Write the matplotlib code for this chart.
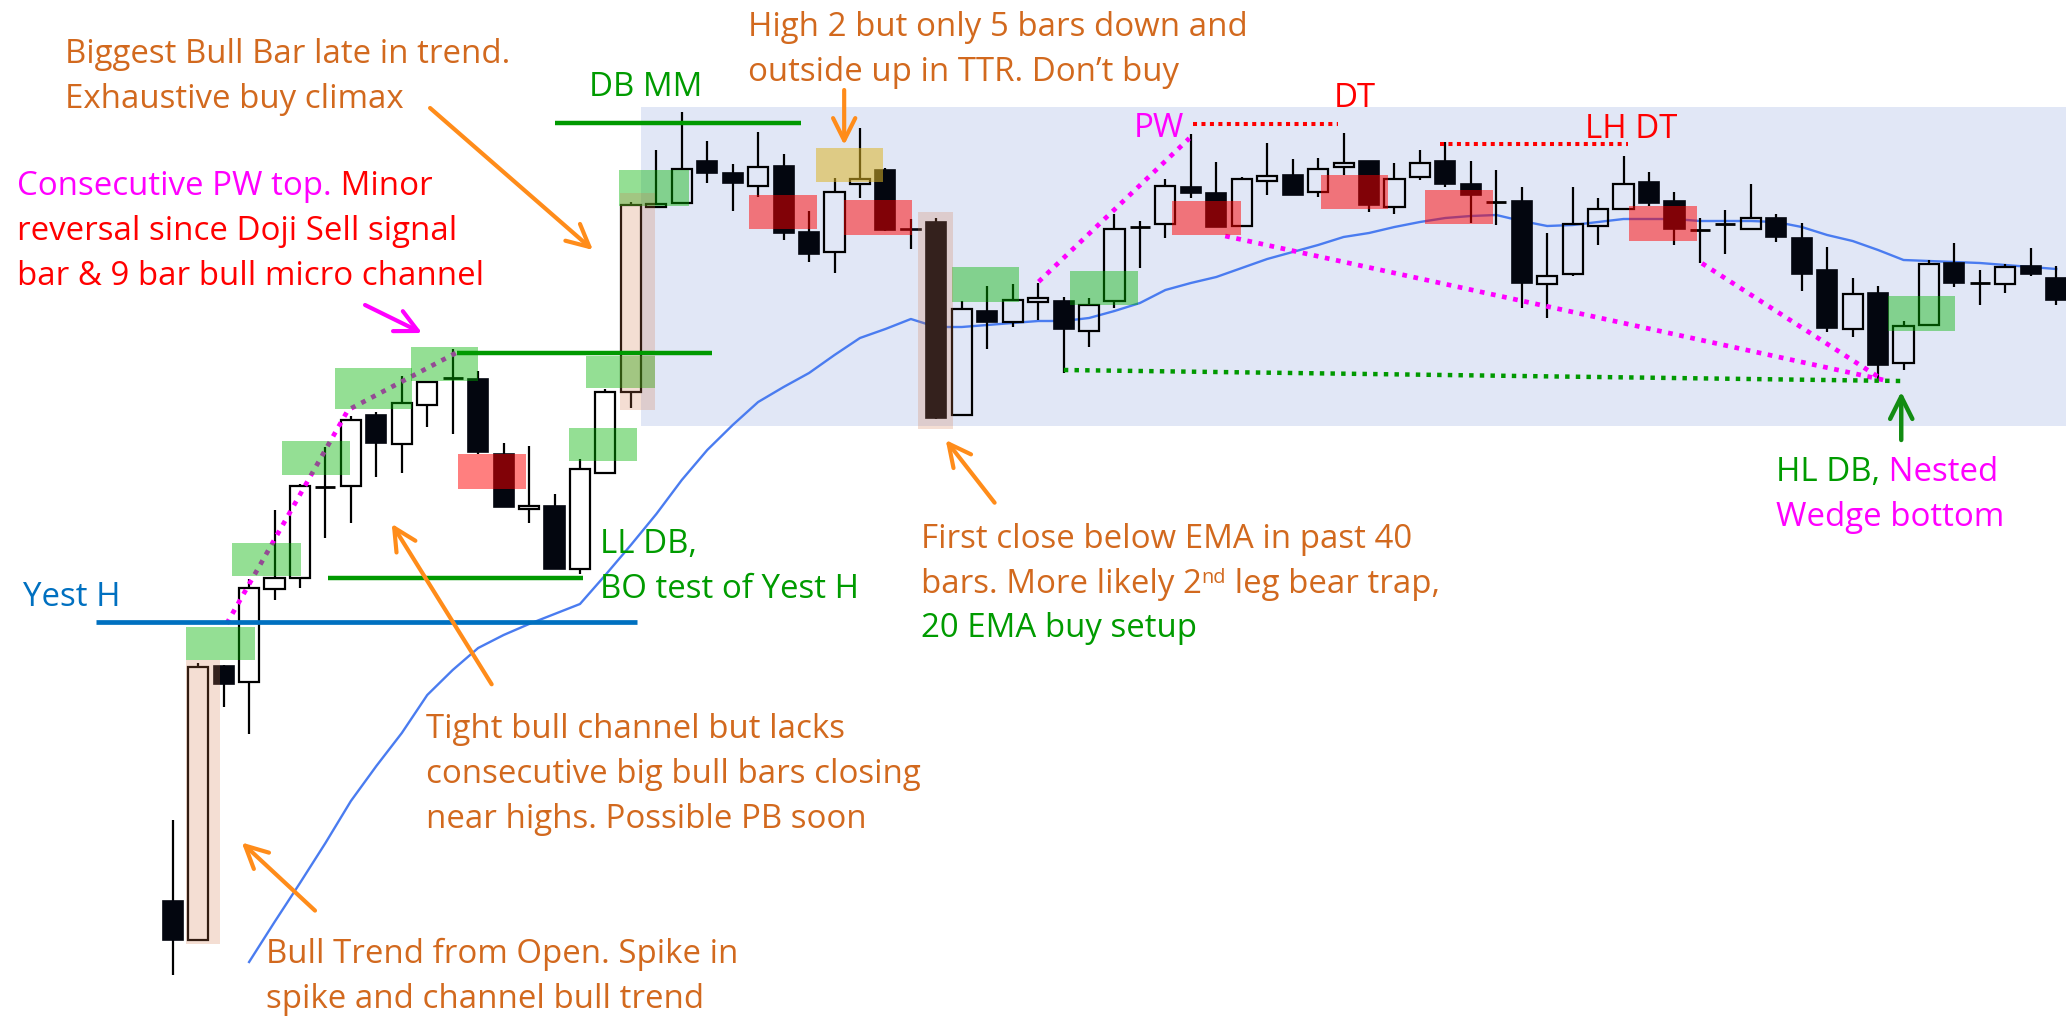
import matplotlib
matplotlib.use('Agg')
import matplotlib.pyplot as plt
from matplotlib.patches import Rectangle
import numpy as np

# ---------------- data (price units) ----------------
opens = [11.6, 7.7, 35.1, 33.5, 42.8, 43.9, 53.0, 53.1, 60.2, 57.3,
         61.2, 63.9, 63.8, 56.3, 50.8, 51.1, 44.8, 54.4, 62.5, 81.0,
         81.4, 85.6, 84.4, 83.1, 85.1, 78.5, 76.5, 83.3, 84.7, 78.8,
         79.5, 60.2, 70.6, 69.5, 71.5, 71.6, 68.6, 71.6, 79.0, 79.3,
         83.0, 82.4, 79.1, 83.6, 84.2, 82.5, 85.0, 85.6, 81.0, 84.0,
         85.6, 83.3, 81.5, 81.6, 73.3, 74.3, 79.1, 80.8, 83.5, 81.6,
         78.7, 79.3, 78.8, 79.9, 77.9, 74.7, 68.8, 72.4, 65.4, 69.2,
         75.4, 73.4, 73.3, 75.1, 73.9]
highs = [19.7, 35.4, 35.2, 43.8, 50.7, 53.3, 57.0, 60.1, 60.5, 64.1,
         63.6, 66.8, 64.6, 57.4, 57.1, 52.3, 55.8, 62.8, 81.5, 86.7,
         90.5, 87.6, 85.3, 88.5, 86.3, 80.6, 83.9, 88.9, 84.9, 79.8,
         79.9, 71.6, 73.1, 73.3, 73.4, 72.0, 71.9, 80.3, 79.6, 83.8,
         88.3, 85.5, 84.0, 87.4, 85.8, 85.9, 88.4, 85.6, 85.4, 86.7,
         87.5, 85.6, 84.7, 83.0, 78.4, 83.0, 81.9, 86.1, 84.5, 82.5,
         79.9, 80.7, 83.3, 80.3, 79.4, 77.0, 73.9, 73.1, 69.6, 75.7,
         77.4, 74.7, 75.3, 76.9, 75.1]
lows = [4.2, 7.6, 31.0, 28.3, 41.7, 42.9, 47.9, 49.4, 54.0, 54.4,
        59.0, 58.3, 56.3, 51.0, 49.4, 44.8, 44.3, 54.4, 60.9, 80.9,
        81.3, 83.4, 80.6, 82.0, 77.7, 75.5, 74.4, 81.9, 78.6, 76.8,
        59.8, 60.1, 66.8, 69.0, 69.7, 64.4, 67.0, 70.9, 74.9, 77.9,
        81.9, 79.0, 79.0, 82.2, 82.2, 82.0, 84.2, 80.5, 80.3, 83.7,
        83.0, 79.4, 79.2, 70.9, 69.9, 74.1, 77.2, 80.7, 81.1, 77.2,
        75.4, 76.3, 78.8, 77.5, 72.6, 68.5, 68.0, 63.7, 64.7, 69.2,
        73.0, 71.2, 72.4, 74.1, 71.2]
closes = [7.7, 35.0, 33.3, 42.9, 43.9, 53.1, 53.0, 59.7, 57.4, 61.4,
          63.5, 63.9, 56.5, 51.0, 51.1, 44.8, 54.8, 62.5, 81.2, 81.3,
          84.8, 84.4, 83.4, 85.0, 78.4, 76.3, 82.5, 83.8, 78.7, 78.7,
          59.9, 70.8, 69.5, 71.7, 71.9, 68.8, 71.2, 78.8, 79.0, 83.1,
          82.4, 79.0, 83.8, 84.1, 82.2, 84.8, 85.4, 81.2, 83.8, 85.4,
          83.3, 82.2, 81.5, 73.4, 74.1, 79.3, 80.8, 83.3, 81.4, 78.8,
          78.7, 79.3, 79.9, 78.0, 74.3, 68.9, 72.3, 65.2, 69.1, 75.3,
          73.4, 73.4, 75.0, 74.3, 71.7]
ema_first_bar = 4
ema20 = [5.5, 9.5, 13.4, 17.4, 21.6, 25.1, 28.4, 32.2, 34.7,
         36.9, 38.2, 39.3, 40.3, 41.3, 44.2, 47.2, 50.3, 53.7, 56.7,
         59.2, 61.5, 63.0, 64.4, 66.2, 67.9, 68.8, 69.8, 69.0, 69.0,
         69.2, 69.4, 69.6, 69.6, 69.9, 70.6, 71.4, 72.7, 73.4, 74.0,
         74.9, 75.8, 76.5, 77.2, 78.0, 78.4, 79.0, 79.5, 79.9, 80.1,
         80.2, 79.6, 79.1, 79.2, 79.5, 79.8, 79.8, 79.8, 79.6, 79.6,
         79.6, 79.5, 79.0, 78.2, 77.6, 76.7, 75.7, 75.6, 75.5, 75.4,
         75.2, 75.0, 74.8]
yest_high = 39.53

# ---------------- figure ----------------
plt.rcParams['font.family'] = ['Open Sans', 'DejaVu Sans']
FS = 23.8
ORANGE_TXT = '#D2691E'
ORANGE = '#FF8C1A'
GREEN_TXT = '#009B00'
GREEN = '#009900'
MAG = '#FF00FF'
RED = '#FF0000'
BLUE = '#0070C0'

fig = plt.figure(figsize=(20.66, 10.17), dpi=100)
ax = fig.add_axes([0, 0, 1, 1])
ax.set_xlim(-5.786, 75.383)
ax.set_ylim(0, 101.7)
ax.axis('off')

O = np.array(opens); H = np.array(highs); L = np.array(lows); C = np.array(closes)
x = np.arange(1, len(O) + 1)
W = 0.79

# trading range background
ax.add_patch(Rectangle((19.40, 59.1), 60, 31.93, facecolor='#E1E7F6', edgecolor='none', zorder=0))

# EMA
ax.plot(np.arange(ema_first_bar, ema_first_bar + len(ema20)), ema20, color='#4A7CF0', lw=1.7, zorder=1)

# candles
top = np.maximum(O, C); bot = np.minimum(O, C)
ax.vlines(x, top, H, color='black', lw=1.6, zorder=2)
ax.vlines(x, L, bot, color='black', lw=1.6, zorder=2)
bull = C > O
bear = C < O
doji = C == O
ax.bar(x[bull], (C - O)[bull], bottom=O[bull], width=W, facecolor='none',
       edgecolor='black', linewidth=1.6, zorder=2.2)
ax.bar(x[bear], (O - C)[bear], bottom=C[bear], width=W, facecolor='#03060F',
       edgecolor='#03060F', linewidth=1.2, zorder=2.2)
ax.hlines(O[doji], x[doji] - W / 2, x[doji] + W / 2, color='black', lw=2, zorder=2.2)

# dotted lines
def dotted(xs, ys, color, lw=3.4, pat=(1, 1.4)):
    ax.plot(xs, ys, color=color, lw=lw, linestyle=(0, pat), dash_capstyle='butt', zorder=2.5)

dotted([3.122, 7.888, 12.159], [39.34, 60.7, 66.45], MAG)
dotted([35.02, 40.94], [73.53, 87.87], MAG)
dotted([42.35, 68.4], [78.1, 63.6], MAG)
dotted([61.08, 68.2], [75.37, 63.7], MAG)
dotted([36.01, 68.9], [64.7, 63.6], GREEN, lw=3.2)
dotted([41.09, 46.77], [89.27, 89.27], RED, lw=2.9, pat=(1, 1.1))
dotted([50.80, 58.18], [87.27, 87.27], RED, lw=2.9, pat=(1, 1.1))

# highlight boxes
def box(x0, x1, y0, y1, color, alpha):
    ax.add_patch(Rectangle((x0, y0), x1 - x0, y1 - y0, facecolor=color, alpha=alpha,
                           edgecolor='none', zorder=3))

GRN = '#00B400'
for b in [(1.523, 4.234, 35.66, 39.04), (3.342, 6.041, 44.11, 47.45),
          (5.283, 7.966, 54.22, 57.64), (7.377, 10.391, 60.81, 64.93),
          (10.352, 13.008, 63.63, 66.97), (16.583, 19.255, 55.6, 58.95),
          (17.228, 19.951, 62.87, 66.13), (18.548, 21.287, 81.1, 84.7),
          (31.609, 34.253, 71.53, 75.03), (36.242, 38.937, 71.2, 74.63),
          (68.375, 71.03, 68.63, 72.13)]:
    box(*b, GRN, 0.42)
for b in [(12.222, 14.882, 52.79, 56.26), (23.644, 26.328, 78.77, 82.2),
          (27.377, 30.061, 78.2, 81.7), (40.257, 42.976, 78.2, 81.63),
          (46.108, 48.76, 80.77, 84.2), (50.206, 52.874, 79.3, 82.7),
          (58.195, 60.886, 77.63, 81.1)]:
    box(*b, '#FF0000', 0.5)
for b in [(1.523, 2.859, 7.34, 35.66), (18.575, 19.951, 60.7, 82.37),
          (30.296, 31.648, 58.77, 80.53)]:
    box(*b, '#D2784B', 0.24)
box(26.277, 28.921, 83.53, 86.87, '#DCB428', 0.55)

# solid lines
ax.plot([16.021, 25.676], [89.4, 89.4], color=GREEN, lw=3.2, solid_capstyle='butt', zorder=4)
ax.plot([12.159, 22.179], [66.4, 66.4], color=GREEN, lw=3.2, solid_capstyle='butt', zorder=4)
ax.plot([7.114, 17.133], [43.9, 43.9], color=GREEN, lw=3.2, solid_capstyle='butt', zorder=4)
ax.plot([-2.014, 19.232], [yest_high, yest_high], color=BLUE, lw=3.4, solid_capstyle='butt', zorder=4)

# arrows
def arrow(tail, head, color, lw=3.0):
    ax.annotate('', xy=head, xytext=tail,
                arrowprops=dict(arrowstyle='->,head_length=0.8,head_width=0.4', color=color,
                                lw=lw, mutation_scale=20, shrinkA=0, shrinkB=0),
                zorder=5)

arrow((11.11, 90.9), (17.51, 76.7), ORANGE)
arrow((27.38, 92.7), (27.38, 87.2), ORANGE)
arrow((13.53, 33.27), (9.605, 49.32), ORANGE)
arrow((6.59, 10.64), (3.711, 17.45), ORANGE)
arrow((33.29, 51.43), (31.37, 57.7), ORANGE)
arrow((8.556, 71.2), (10.796, 68.4), MAG)
arrow((68.91, 57.7), (68.91, 62.53), '#128C12', lw=3.2)

# text helpers
def txt(xv, yv, s, color, fs=FS):
    return ax.text(xv, yv, s, color=color, fontsize=fs, va='baseline', ha='left', zorder=6)

def chain(xv, yv, parts):
    first = txt(xv, yv, parts[0][0], parts[0][1])
    prev = first
    for part in parts[1:]:
        s, c = part[0], part[1]
        scale = part[2] if len(part) > 2 else 1.0
        dy = part[3] if len(part) > 3 else 0
        prev = ax.annotate(s, xy=(1, 0), xycoords=(prev, first), xytext=(0, dy),
                           textcoords='offset points', va='bottom', ha='left',
                           color=c, fontsize=FS * scale, zorder=6)
    return first

txt(-3.232, 95.43, 'Biggest Bull Bar late in trend.', ORANGE_TXT)
txt(-3.232, 90.93, 'Exhaustive buy climax', ORANGE_TXT)

chain(-5.118, 82.2, [('Consecutive PW top.', MAG), (' Minor', RED)])
txt(-5.118, 77.7, 'reversal since Doji Sell signal', RED)
txt(-5.118, 73.2, 'bar & 9 bar bull micro channel', RED)

txt(23.6, 98.13, 'High 2 but only 5 bars down and', ORANGE_TXT)
txt(23.6, 93.63, 'outside up in TTR. Don\u2019t buy', ORANGE_TXT)

txt(17.357, 92.1, 'DB MM', GREEN_TXT)
txt(38.77, 88.0, 'PW', MAG)
txt(46.63, 91.0, 'DT', RED)
txt(56.49, 87.9, 'LH DT', RED)
txt(-4.894, 41.13, 'Yest H', BLUE)

txt(17.79, 46.37, 'LL DB,', GREEN_TXT)
txt(17.79, 41.87, 'BO test of Yest H', GREEN_TXT)

txt(10.969, 27.9, 'Tight bull channel but lacks', ORANGE_TXT)
txt(10.969, 23.4, 'consecutive big bull bars closing', ORANGE_TXT)
txt(10.969, 18.9, 'near highs. Possible PB soon', ORANGE_TXT)

txt(4.654, 5.37, 'Bull Trend from Open. Spike in', ORANGE_TXT)
txt(4.654, 0.87, 'spike and channel bull trend', ORANGE_TXT)

txt(30.39, 46.93, 'First close below EMA in past 40', ORANGE_TXT)
chain(30.39, 42.43, [('bars. More likely 2', ORANGE_TXT), ('nd', ORANGE_TXT, 0.6, 9),
                     (' leg bear trap,', ORANGE_TXT)])
txt(30.39, 38.03, '20 EMA buy setup', GREEN_TXT)

chain(64.0, 53.63, [('HL DB,', GREEN_TXT), (' Nested', MAG)])
txt(64.0, 49.13, 'Wedge bottom', MAG)

fig.savefig('out.png', dpi=100)
